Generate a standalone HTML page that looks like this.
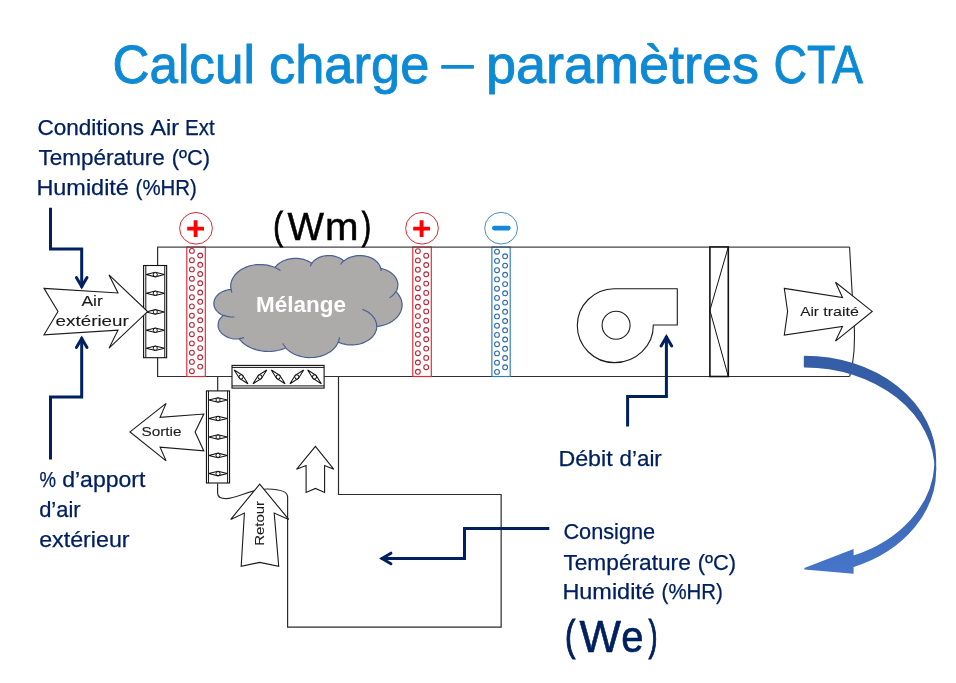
<!DOCTYPE html>
<html><head><meta charset="utf-8"><title>Calcul charge</title>
<style>
html,body{margin:0;padding:0;background:#fff;}
body{width:956px;height:683px;overflow:hidden;}
svg{display:block;will-change:transform;}
text{font-family:"Liberation Sans",sans-serif;}
</style></head><body>
<svg width="956" height="683" viewBox="0 0 956 683">
<rect width="956" height="683" fill="#ffffff"/>

<g fill="none" stroke="#2b2b2b" stroke-width="1.2">
<path d="M157.6 247.0 V376.5"/>
<path d="M849.6 247.0 C851 275 852.5 300 854 322 C855 338 854.5 352 852.5 364 C851.8 369 850.8 373 849.6 376.5" stroke="#222" stroke-width="1.1"/>
<path d="M217.7 376.5 V391" />
<path d="M338.5 376.5 V494.5 H501.15 V627.2 H287.6 V497 C287.6 492 281 489.3 268 489 C250 488.6 238 498.6 226 498.6 C220 498.6 217.6 497 217.6 493 V483.5" />
</g>
<path d="M157.0 376.5 H849.6" fill="none" stroke="#303030" stroke-width="1.2"/>
<g fill="none" stroke="#e3262f" stroke-width="1.15">
<rect x="186.8" y="247.0" width="18.5" height="129.5" fill="#fff"/>
<circle cx="191.9" cy="250.9" r="2.4" stroke="#b8263a" stroke-width="1.1"/>
<circle cx="191.9" cy="260.2" r="2.4" stroke="#b8263a" stroke-width="1.1"/>
<circle cx="191.9" cy="269.4" r="2.4" stroke="#b8263a" stroke-width="1.1"/>
<circle cx="191.9" cy="278.7" r="2.4" stroke="#b8263a" stroke-width="1.1"/>
<circle cx="191.9" cy="287.9" r="2.4" stroke="#b8263a" stroke-width="1.1"/>
<circle cx="191.9" cy="297.2" r="2.4" stroke="#b8263a" stroke-width="1.1"/>
<circle cx="191.9" cy="306.4" r="2.4" stroke="#b8263a" stroke-width="1.1"/>
<circle cx="191.9" cy="315.7" r="2.4" stroke="#b8263a" stroke-width="1.1"/>
<circle cx="191.9" cy="324.9" r="2.4" stroke="#b8263a" stroke-width="1.1"/>
<circle cx="191.9" cy="334.2" r="2.4" stroke="#b8263a" stroke-width="1.1"/>
<circle cx="191.9" cy="343.4" r="2.4" stroke="#b8263a" stroke-width="1.1"/>
<circle cx="191.9" cy="352.7" r="2.4" stroke="#b8263a" stroke-width="1.1"/>
<circle cx="191.9" cy="361.9" r="2.4" stroke="#b8263a" stroke-width="1.1"/>
<circle cx="191.9" cy="371.2" r="2.4" stroke="#b8263a" stroke-width="1.1"/>
<circle cx="200.2" cy="255.5" r="2.4" stroke="#b8263a" stroke-width="1.1"/>
<circle cx="200.2" cy="264.8" r="2.4" stroke="#b8263a" stroke-width="1.1"/>
<circle cx="200.2" cy="274.0" r="2.4" stroke="#b8263a" stroke-width="1.1"/>
<circle cx="200.2" cy="283.3" r="2.4" stroke="#b8263a" stroke-width="1.1"/>
<circle cx="200.2" cy="292.5" r="2.4" stroke="#b8263a" stroke-width="1.1"/>
<circle cx="200.2" cy="301.8" r="2.4" stroke="#b8263a" stroke-width="1.1"/>
<circle cx="200.2" cy="311.1" r="2.4" stroke="#b8263a" stroke-width="1.1"/>
<circle cx="200.2" cy="320.3" r="2.4" stroke="#b8263a" stroke-width="1.1"/>
<circle cx="200.2" cy="329.6" r="2.4" stroke="#b8263a" stroke-width="1.1"/>
<circle cx="200.2" cy="338.8" r="2.4" stroke="#b8263a" stroke-width="1.1"/>
<circle cx="200.2" cy="348.1" r="2.4" stroke="#b8263a" stroke-width="1.1"/>
<circle cx="200.2" cy="357.3" r="2.4" stroke="#b8263a" stroke-width="1.1"/>
<circle cx="200.2" cy="366.6" r="2.4" stroke="#b8263a" stroke-width="1.1"/>
</g>
<g fill="none" stroke="#e3262f" stroke-width="1.15">
<rect x="412.8" y="247.0" width="18.5" height="129.5" fill="#fff"/>
<circle cx="417.9" cy="251.1" r="2.4" stroke="#b8263a" stroke-width="1.1"/>
<circle cx="417.9" cy="260.4" r="2.4" stroke="#b8263a" stroke-width="1.1"/>
<circle cx="417.9" cy="269.7" r="2.4" stroke="#b8263a" stroke-width="1.1"/>
<circle cx="417.9" cy="279.0" r="2.4" stroke="#b8263a" stroke-width="1.1"/>
<circle cx="417.9" cy="288.2" r="2.4" stroke="#b8263a" stroke-width="1.1"/>
<circle cx="417.9" cy="297.5" r="2.4" stroke="#b8263a" stroke-width="1.1"/>
<circle cx="417.9" cy="306.8" r="2.4" stroke="#b8263a" stroke-width="1.1"/>
<circle cx="417.9" cy="316.1" r="2.4" stroke="#b8263a" stroke-width="1.1"/>
<circle cx="417.9" cy="325.4" r="2.4" stroke="#b8263a" stroke-width="1.1"/>
<circle cx="417.9" cy="334.7" r="2.4" stroke="#b8263a" stroke-width="1.1"/>
<circle cx="417.9" cy="343.9" r="2.4" stroke="#b8263a" stroke-width="1.1"/>
<circle cx="417.9" cy="353.2" r="2.4" stroke="#b8263a" stroke-width="1.1"/>
<circle cx="417.9" cy="362.5" r="2.4" stroke="#b8263a" stroke-width="1.1"/>
<circle cx="417.9" cy="371.8" r="2.4" stroke="#b8263a" stroke-width="1.1"/>
<circle cx="426.2" cy="255.7" r="2.4" stroke="#b8263a" stroke-width="1.1"/>
<circle cx="426.2" cy="265.0" r="2.4" stroke="#b8263a" stroke-width="1.1"/>
<circle cx="426.2" cy="274.3" r="2.4" stroke="#b8263a" stroke-width="1.1"/>
<circle cx="426.2" cy="283.6" r="2.4" stroke="#b8263a" stroke-width="1.1"/>
<circle cx="426.2" cy="292.9" r="2.4" stroke="#b8263a" stroke-width="1.1"/>
<circle cx="426.2" cy="302.2" r="2.4" stroke="#b8263a" stroke-width="1.1"/>
<circle cx="426.2" cy="311.4" r="2.4" stroke="#b8263a" stroke-width="1.1"/>
<circle cx="426.2" cy="320.7" r="2.4" stroke="#b8263a" stroke-width="1.1"/>
<circle cx="426.2" cy="330.0" r="2.4" stroke="#b8263a" stroke-width="1.1"/>
<circle cx="426.2" cy="339.3" r="2.4" stroke="#b8263a" stroke-width="1.1"/>
<circle cx="426.2" cy="348.6" r="2.4" stroke="#b8263a" stroke-width="1.1"/>
<circle cx="426.2" cy="357.9" r="2.4" stroke="#b8263a" stroke-width="1.1"/>
<circle cx="426.2" cy="367.2" r="2.4" stroke="#b8263a" stroke-width="1.1"/>
</g>
<g fill="none" stroke="#2f78bd" stroke-width="1.15">
<rect x="491.9" y="247.0" width="18.3" height="129.5" fill="#fff"/>
<circle cx="497.0" cy="251.7" r="2.4" stroke="#2b69a8" stroke-width="1.1"/>
<circle cx="497.0" cy="260.9" r="2.4" stroke="#2b69a8" stroke-width="1.1"/>
<circle cx="497.0" cy="270.2" r="2.4" stroke="#2b69a8" stroke-width="1.1"/>
<circle cx="497.0" cy="279.4" r="2.4" stroke="#2b69a8" stroke-width="1.1"/>
<circle cx="497.0" cy="288.7" r="2.4" stroke="#2b69a8" stroke-width="1.1"/>
<circle cx="497.0" cy="297.9" r="2.4" stroke="#2b69a8" stroke-width="1.1"/>
<circle cx="497.0" cy="307.2" r="2.4" stroke="#2b69a8" stroke-width="1.1"/>
<circle cx="497.0" cy="316.4" r="2.4" stroke="#2b69a8" stroke-width="1.1"/>
<circle cx="497.0" cy="325.7" r="2.4" stroke="#2b69a8" stroke-width="1.1"/>
<circle cx="497.0" cy="334.9" r="2.4" stroke="#2b69a8" stroke-width="1.1"/>
<circle cx="497.0" cy="344.2" r="2.4" stroke="#2b69a8" stroke-width="1.1"/>
<circle cx="497.0" cy="353.4" r="2.4" stroke="#2b69a8" stroke-width="1.1"/>
<circle cx="497.0" cy="362.7" r="2.4" stroke="#2b69a8" stroke-width="1.1"/>
<circle cx="497.0" cy="371.9" r="2.4" stroke="#2b69a8" stroke-width="1.1"/>
<circle cx="505.1" cy="256.3" r="2.4" stroke="#2b69a8" stroke-width="1.1"/>
<circle cx="505.1" cy="265.6" r="2.4" stroke="#2b69a8" stroke-width="1.1"/>
<circle cx="505.1" cy="274.8" r="2.4" stroke="#2b69a8" stroke-width="1.1"/>
<circle cx="505.1" cy="284.1" r="2.4" stroke="#2b69a8" stroke-width="1.1"/>
<circle cx="505.1" cy="293.3" r="2.4" stroke="#2b69a8" stroke-width="1.1"/>
<circle cx="505.1" cy="302.6" r="2.4" stroke="#2b69a8" stroke-width="1.1"/>
<circle cx="505.1" cy="311.8" r="2.4" stroke="#2b69a8" stroke-width="1.1"/>
<circle cx="505.1" cy="321.0" r="2.4" stroke="#2b69a8" stroke-width="1.1"/>
<circle cx="505.1" cy="330.3" r="2.4" stroke="#2b69a8" stroke-width="1.1"/>
<circle cx="505.1" cy="339.5" r="2.4" stroke="#2b69a8" stroke-width="1.1"/>
<circle cx="505.1" cy="348.8" r="2.4" stroke="#2b69a8" stroke-width="1.1"/>
<circle cx="505.1" cy="358.0" r="2.4" stroke="#2b69a8" stroke-width="1.1"/>
<circle cx="505.1" cy="367.3" r="2.4" stroke="#2b69a8" stroke-width="1.1"/>
</g>
<path d="M157.0 247.1 H849.6" fill="none" stroke="#454545" stroke-width="1.4"/>
<ellipse cx="196.0" cy="228.3" rx="16.4" ry="15.85" fill="#fff" stroke="#d4202c" stroke-width="0.95"/>
<path d="M187.2 228.6 h16.8 M195.6 220.2 v16.8" stroke="#ff0000" stroke-width="3.9" fill="none"/>
<ellipse cx="422.0" cy="228.3" rx="16.4" ry="15.85" fill="#fff" stroke="#d4202c" stroke-width="0.95"/>
<path d="M413.2 228.6 h16.8 M421.6 220.2 v16.8" stroke="#ff0000" stroke-width="3.9" fill="none"/>
<ellipse cx="501.1" cy="228.2" rx="16.4" ry="15.85" fill="#fff" stroke="#3b87b9" stroke-width="0.95"/>
<path d="M494.4 228.1 h13.9" stroke="#1487d7" stroke-width="4.8" stroke-linecap="round" fill="none"/>
<path d="M231.0 289.1 L230.7 287.1 L230.7 285.1 L231.0 283.1 L231.5 281.1 L232.3 279.2 L233.3 277.3 L234.5 275.5 L236.0 273.8 L237.7 272.2 L239.5 270.7 L241.6 269.3 L243.8 268.2 L246.1 267.1 L248.6 266.2 L251.2 265.5 L253.8 265.0 L256.5 264.7 L259.2 264.5 L262.0 264.6 L264.7 264.8 L267.4 265.2 L270.0 265.8 L272.5 266.5 L274.9 267.5 L275.9 266.3 L276.9 265.2 L278.0 264.2 L279.2 263.2 L280.6 262.4 L282.0 261.5 L283.5 260.8 L285.1 260.2 L286.7 259.6 L288.4 259.2 L290.2 258.8 L291.9 258.6 L293.7 258.4 L295.5 258.4 L297.3 258.4 L299.1 258.6 L300.8 258.8 L302.6 259.2 L304.3 259.7 L305.9 260.2 L307.5 260.9 L309.0 261.6 L310.4 262.4 L311.7 263.3 L312.5 262.3 L313.4 261.3 L314.4 260.4 L315.5 259.5 L316.7 258.7 L318.0 258.0 L319.3 257.4 L320.8 256.8 L322.2 256.4 L323.8 256.0 L325.3 255.8 L326.9 255.6 L328.5 255.5 L330.1 255.6 L331.7 255.7 L333.3 255.9 L334.8 256.3 L336.3 256.7 L337.8 257.2 L339.2 257.8 L340.5 258.5 L341.7 259.3 L342.8 260.1 L343.8 261.1 L345.2 260.0 L346.7 259.0 L348.3 258.1 L350.0 257.4 L351.8 256.8 L353.7 256.3 L355.6 255.9 L357.5 255.7 L359.5 255.6 L361.5 255.6 L363.5 255.8 L365.4 256.1 L367.3 256.5 L369.2 257.1 L370.9 257.8 L372.6 258.6 L374.1 259.6 L375.5 260.6 L376.8 261.7 L377.9 262.9 L378.9 264.2 L379.7 265.5 L380.3 266.9 L380.8 268.4 L382.3 268.7 L383.9 269.2 L385.4 269.7 L386.8 270.3 L388.2 271.0 L389.5 271.7 L390.7 272.5 L391.9 273.4 L392.9 274.4 L393.9 275.3 L394.8 276.4 L395.6 277.5 L396.2 278.6 L396.8 279.7 L397.2 280.9 L397.6 282.1 L397.8 283.3 L397.9 284.5 L397.8 285.8 L397.7 287.0 L397.4 288.2 L397.1 289.4 L396.6 290.6 L396.0 291.7 L397.5 293.2 L398.7 294.9 L399.8 296.6 L400.7 298.4 L401.4 300.2 L401.8 302.1 L402.1 303.9 L402.1 305.8 L401.9 307.7 L401.4 309.6 L400.8 311.4 L399.9 313.2 L398.8 314.9 L397.6 316.5 L396.1 318.1 L394.5 319.5 L392.7 320.9 L390.8 322.1 L388.7 323.2 L386.5 324.2 L384.2 325.0 L381.8 325.7 L379.3 326.2 L376.8 326.5 L376.7 328.2 L376.4 329.8 L375.8 331.4 L375.2 332.9 L374.3 334.4 L373.2 335.9 L372.0 337.3 L370.6 338.5 L369.1 339.7 L367.4 340.8 L365.6 341.8 L363.7 342.6 L361.7 343.4 L359.7 344.0 L357.5 344.4 L355.3 344.7 L353.1 344.9 L350.9 344.9 L348.7 344.8 L346.5 344.6 L344.3 344.1 L342.2 343.6 L340.2 342.9 L338.3 342.1 L337.3 344.0 L336.2 345.9 L334.8 347.7 L333.2 349.3 L331.4 350.9 L329.4 352.3 L327.2 353.5 L324.9 354.7 L322.4 355.6 L319.8 356.4 L317.2 356.9 L314.5 357.3 L311.7 357.5 L309.0 357.6 L306.2 357.4 L303.5 357.0 L300.8 356.4 L298.2 355.7 L295.8 354.8 L293.4 353.7 L291.2 352.5 L289.2 351.1 L287.4 349.6 L285.7 347.9 L283.8 348.7 L281.8 349.4 L279.7 350.0 L277.6 350.5 L275.4 350.9 L273.2 351.2 L271.0 351.4 L268.8 351.5 L266.5 351.4 L264.3 351.3 L262.1 351.0 L260.0 350.7 L257.8 350.2 L255.7 349.6 L253.7 348.9 L251.7 348.2 L249.8 347.3 L248.0 346.4 L246.3 345.3 L244.7 344.2 L243.1 343.0 L241.7 341.7 L240.4 340.4 L239.3 338.9 L237.3 339.0 L235.4 339.0 L233.5 338.8 L231.6 338.5 L229.8 338.0 L228.1 337.4 L226.4 336.6 L224.9 335.8 L223.5 334.8 L222.2 333.8 L221.1 332.6 L220.1 331.4 L219.3 330.1 L218.7 328.7 L218.3 327.3 L218.1 325.9 L218.1 324.5 L218.3 323.1 L218.6 321.7 L219.2 320.3 L219.9 319.0 L220.9 317.8 L222.0 316.6 L223.2 315.5 L221.5 314.7 L220.0 313.8 L218.6 312.7 L217.4 311.6 L216.3 310.4 L215.4 309.1 L214.7 307.7 L214.2 306.3 L213.9 304.8 L213.8 303.3 L214.0 301.9 L214.3 300.4 L214.8 299.0 L215.5 297.7 L216.4 296.3 L217.5 295.1 L218.7 294.0 L220.1 292.9 L221.7 292.0 L223.3 291.2 L225.1 290.6 L227.0 290.0 L228.9 289.7 L230.8 289.4Z" fill="#adaaaa" stroke="#4b5f93" stroke-width="1.2" stroke-linejoin="round"/>
<path d="M234.4 317.0 L233.0 317.0 L231.6 317.0 L230.1 316.9 L228.7 316.7 L227.3 316.4 L226.0 316.1 L224.7 315.6 L223.4 315.1M244.1 337.6 L243.6 337.8 L243.0 337.9 L242.4 338.0 L241.8 338.2 L241.2 338.3 L240.6 338.4 L239.9 338.4 L239.3 338.5M285.7 347.5 L285.3 347.0 L284.9 346.5 L284.5 346.0 L284.1 345.5 L283.8 345.0 L283.4 344.5 L283.1 343.9 L282.8 343.4M339.5 337.3 L339.4 337.8 L339.3 338.4 L339.2 339.0 L339.0 339.5 L338.9 340.1 L338.7 340.7 L338.5 341.2 L338.3 341.8M362.5 309.4 L365.6 310.7 L368.4 312.3 L370.8 314.2 L372.9 316.3 L374.5 318.6 L375.7 321.1 L376.5 323.6 L376.7 326.2M395.9 291.5 L395.3 292.4 L394.7 293.2 L394.0 294.1 L393.2 294.9 L392.4 295.7 L391.5 296.4 L390.6 297.1 L389.6 297.8M380.8 268.0 L380.9 268.4 L380.9 268.8 L381.0 269.1 L381.0 269.5 L381.1 269.9 L381.1 270.2 L381.1 270.6 L381.1 271.0M340.5 264.5 L340.9 264.0 L341.2 263.5 L341.6 263.0 L342.0 262.5 L342.4 262.1 L342.8 261.6 L343.3 261.2 L343.8 260.7M310.4 266.3 L310.5 265.9 L310.6 265.5 L310.8 265.1 L311.0 264.7 L311.2 264.3 L311.4 263.9 L311.7 263.5 L311.9 263.1M274.9 267.5 L275.7 267.8 L276.4 268.2 L277.2 268.5 L277.9 268.9 L278.6 269.3 L279.3 269.8 L279.9 270.2 L280.6 270.6M232.0 292.5 L231.8 292.1 L231.6 291.7 L231.5 291.2 L231.4 290.8 L231.3 290.4 L231.2 290.0 L231.1 289.6 L231.0 289.1" fill="none" stroke="#4b5f93" stroke-width="1.2"/>
<g stroke="#111" stroke-width="1.1" fill="#fff">
<rect x="143.60" y="265.50" width="23.05" height="92.20"/>
<path d="M145.80 265.50 V357.70 M164.75 265.50 V357.70" stroke-width="1.0" fill="none"/>
<path d="M146.10 274.60 L155.28 272.35 L164.45 274.60 L155.28 276.85Z" stroke-width="1.05" stroke-linejoin="miter"/>
<circle cx="155.28" cy="274.60" r="2.05" stroke-width="1.0"/>
<path d="M146.10 293.30 L155.28 291.05 L164.45 293.30 L155.28 295.55Z" stroke-width="1.05" stroke-linejoin="miter"/>
<circle cx="155.28" cy="293.30" r="2.05" stroke-width="1.0"/>
<path d="M146.10 311.90 L155.28 309.65 L164.45 311.90 L155.28 314.15Z" stroke-width="1.05" stroke-linejoin="miter"/>
<circle cx="155.28" cy="311.90" r="2.05" stroke-width="1.0"/>
<path d="M146.10 330.30 L155.28 328.05 L164.45 330.30 L155.28 332.55Z" stroke-width="1.05" stroke-linejoin="miter"/>
<circle cx="155.28" cy="330.30" r="2.05" stroke-width="1.0"/>
<path d="M146.10 348.20 L155.28 345.95 L164.45 348.20 L155.28 350.45Z" stroke-width="1.05" stroke-linejoin="miter"/>
<circle cx="155.28" cy="348.20" r="2.05" stroke-width="1.0"/>
</g>
<g stroke="#111" stroke-width="1.1" fill="#fff">
<rect x="206.45" y="390.90" width="23.10" height="92.10"/>
<path d="M208.45 390.90 V483.00 M227.60 390.90 V483.00" stroke-width="1.0" fill="none"/>
<path d="M208.75 400.00 L218.02 397.75 L227.30 400.00 L218.02 402.25Z" stroke-width="1.05" stroke-linejoin="miter"/>
<circle cx="218.02" cy="400.00" r="2.05" stroke-width="1.0"/>
<path d="M208.75 418.50 L218.02 416.25 L227.30 418.50 L218.02 420.75Z" stroke-width="1.05" stroke-linejoin="miter"/>
<circle cx="218.02" cy="418.50" r="2.05" stroke-width="1.0"/>
<path d="M208.75 437.00 L218.02 434.75 L227.30 437.00 L218.02 439.25Z" stroke-width="1.05" stroke-linejoin="miter"/>
<circle cx="218.02" cy="437.00" r="2.05" stroke-width="1.0"/>
<path d="M208.75 455.40 L218.02 453.15 L227.30 455.40 L218.02 457.65Z" stroke-width="1.05" stroke-linejoin="miter"/>
<circle cx="218.02" cy="455.40" r="2.05" stroke-width="1.0"/>
<path d="M208.75 473.60 L218.02 471.35 L227.30 473.60 L218.02 475.85Z" stroke-width="1.05" stroke-linejoin="miter"/>
<circle cx="218.02" cy="473.60" r="2.05" stroke-width="1.0"/>
</g>
<g stroke="#111" stroke-width="1.1" fill="#fff">
<rect x="232.00" y="365.40" width="92.10" height="22.70"/>
<path d="M232.00 367.40 H324.10 M232.00 385.90 H324.10" stroke-width="1.0" fill="none"/>
<g transform="translate(241.10 376.85) rotate(45)">
<path d="M-9.7 0 L0 -2.25 L9.7 0 L0 2.25Z" stroke-width="1.05"/>
<circle cx="0" cy="0" r="2.05" stroke-width="1.0"/></g>
<g transform="translate(259.90 376.85) rotate(-45)">
<path d="M-9.7 0 L0 -2.25 L9.7 0 L0 2.25Z" stroke-width="1.05"/>
<circle cx="0" cy="0" r="2.05" stroke-width="1.0"/></g>
<g transform="translate(278.20 376.85) rotate(45)">
<path d="M-9.7 0 L0 -2.25 L9.7 0 L0 2.25Z" stroke-width="1.05"/>
<circle cx="0" cy="0" r="2.05" stroke-width="1.0"/></g>
<g transform="translate(296.80 376.85) rotate(-45)">
<path d="M-9.7 0 L0 -2.25 L9.7 0 L0 2.25Z" stroke-width="1.05"/>
<circle cx="0" cy="0" r="2.05" stroke-width="1.0"/></g>
<g transform="translate(314.50 376.85) rotate(45)">
<path d="M-9.7 0 L0 -2.25 L9.7 0 L0 2.25Z" stroke-width="1.05"/>
<circle cx="0" cy="0" r="2.05" stroke-width="1.0"/></g>
</g>
<path d="M44.0 288.4 L118.0 293.0 L109.0 274.9 L147.6 311.6 L109.0 348.2 L118.0 330.2 L44.0 334.8 L58.0 311.5Z" fill="#fff" stroke="#1a1a1a" stroke-width="1.1" stroke-linejoin="miter" stroke-miterlimit="3"/>
<path d="M130.0 431.9 L166.1 403.4 L160.1 417.4 L203.8 414.0 L195.1 431.9 L203.8 450.9 L160.1 447.2 L166.1 460.9Z" fill="#fff" stroke="#1a1a1a" stroke-width="1.1" stroke-linejoin="miter" stroke-miterlimit="3"/>
<path d="M259.7 484.1 L288.7 519.4 L274.2 513.1 L278.7 566.3 L259.7 562.4 L241.2 566.3 L244.4 513.1 L230.7 519.4Z" fill="#fff" stroke="#1a1a1a" stroke-width="1.1" stroke-linejoin="miter" stroke-miterlimit="3"/>
<path d="M315.4 446.3 L333.9 469.3 L324.6 465.5 L324.6 492.5 L315.4 488.4 L306.1 492.5 L306.1 465.5 L296.5 469.3Z" fill="#fff" stroke="#1a1a1a" stroke-width="1.1" stroke-linejoin="miter" stroke-miterlimit="3"/>
<path d="M784.3 288.4 L842.5 297.6 L835.5 282.2 L872.2 311.4 L835.5 341.1 L842.5 326.4 L784.3 335.0 L787.6 311.4Z" fill="#fff" stroke="#1a1a1a" stroke-width="1.1" stroke-linejoin="miter" stroke-miterlimit="3"/>
<path d="M614.3 288.7 H677.3 V325.0 H653.3 A39.0 37.0 0 0 1 614.3 362.6 A37.0 37.0 0 0 1 577.3 325.6 A37.0 37.0 0 0 1 614.3 288.7Z" fill="#fff" stroke="#1a1a1a" stroke-width="1.1"/>
<circle cx="616.1" cy="325.2" r="14.0" fill="#fff" stroke="#1a1a1a" stroke-width="1.1"/>
<rect x="709.9" y="247.0" width="18.4" height="129.5" fill="#fff" stroke="#111" stroke-width="1.6"/>
<path d="M728.3 247.0 L709.9 310.3 L728.3 376.5" fill="none" stroke="#111" stroke-width="1"/>
<path d="M50.5 207.7 L50.5 248.9 L81.7 248.9 L81.7 287.5" fill="none" stroke="#002060" stroke-width="3" stroke-linejoin="miter"/>
<path d="M76.4 277.6 L81.7 286.5 L87.0 277.6" fill="none" stroke="#002060" stroke-width="3" stroke-linecap="round" stroke-linejoin="miter"/>
<path d="M50.5 459.5 L50.5 397.0 L81.7 397.0 L81.7 337.5" fill="none" stroke="#002060" stroke-width="3" stroke-linejoin="miter"/>
<path d="M76.4 347.4 L81.7 338.5 L87.0 347.4" fill="none" stroke="#002060" stroke-width="3" stroke-linecap="round" stroke-linejoin="miter"/>
<path d="M627.6 426.5 L627.6 396.4 L666.4 396.4 L666.4 336.0" fill="none" stroke="#002060" stroke-width="3" stroke-linejoin="miter"/>
<path d="M661.1 345.9 L666.4 337.0 L671.7 345.9" fill="none" stroke="#002060" stroke-width="3" stroke-linecap="round" stroke-linejoin="miter"/>
<path d="M549.3 528.4 L464.5 528.4 L464.5 558.5 L381.0 558.5" fill="none" stroke="#002060" stroke-width="3" stroke-linejoin="miter"/>
<path d="M390.9 553.2 L382.0 558.5 L390.9 563.8" fill="none" stroke="#002060" stroke-width="3" stroke-linecap="round" stroke-linejoin="miter"/>
<defs><linearGradient id="bg" x1="0" y1="0" x2="0" y2="1"><stop offset="0" stop-color="#3860aa"/><stop offset="1" stop-color="#4675ca"/></linearGradient></defs>
<path d="M935.4 470.2 A130.8 103.6 0 0 0 804.6 366.6 L804.6 356.6 A130.8 103.6 0 0 1 935.4 460.2 Z" fill="#355ea6" stroke="#355ea6" stroke-width="1.6" stroke-linejoin="round"/>
<path d="M804.6 568.8 L852.8 550.1 L852.8 556.5 A130.8 103.6 0 0 0 935.2 465.2 A130.8 103.6 0 0 1 852.8 566.5 L852.8 572.9 Z" fill="url(#bg)" stroke="url(#bg)" stroke-width="1.6" stroke-linejoin="miter"/>
<text x="112.6" y="82.7" font-size="53.6" fill="#0E8AD4" textLength="142.2" lengthAdjust="spacingAndGlyphs" stroke="#0E8AD4" stroke-width="0.90">Calcul</text>
<text x="269.0" y="82.7" font-size="53.6" fill="#0E8AD4" textLength="160.3" lengthAdjust="spacingAndGlyphs" stroke="#0E8AD4" stroke-width="0.90">charge</text>
<text x="486.0" y="82.7" font-size="53.6" fill="#0E8AD4" textLength="273.1" lengthAdjust="spacingAndGlyphs" stroke="#0E8AD4" stroke-width="0.90">paramètres</text>
<text x="773.6" y="82.7" font-size="53.6" fill="#0E8AD4" textLength="89.4" lengthAdjust="spacingAndGlyphs" stroke="#0E8AD4" stroke-width="0.90">CTA</text>
<rect x="441.2" y="64.9" width="32.7" height="3.9" rx="0.9" fill="#0E8AD4"/>
<text x="37.4" y="134.6" font-size="22.0" fill="#002060" textLength="106.6" lengthAdjust="spacingAndGlyphs" stroke="#002060" stroke-width="0.25">Conditions</text>
<text x="150.4" y="134.6" font-size="22.0" fill="#002060" textLength="28.6" lengthAdjust="spacingAndGlyphs" stroke="#002060" stroke-width="0.25">Air</text>
<text x="185.0" y="134.6" font-size="22.0" fill="#002060" textLength="29.7" lengthAdjust="spacingAndGlyphs" stroke="#002060" stroke-width="0.25">Ext</text>
<text x="38.4" y="164.8" font-size="22.0" fill="#002060" textLength="126.4" lengthAdjust="spacingAndGlyphs" stroke="#002060" stroke-width="0.25">Température</text>
<text x="171.8" y="164.8" font-size="22.0" fill="#002060" textLength="38.3" lengthAdjust="spacingAndGlyphs" stroke="#002060" stroke-width="0.25">(ºC)</text>
<text x="36.4" y="194.6" font-size="22.0" fill="#002060" textLength="92.5" lengthAdjust="spacingAndGlyphs" stroke="#002060" stroke-width="0.25">Humidité</text>
<text x="135.6" y="194.6" font-size="22.0" fill="#002060" textLength="61.3" lengthAdjust="spacingAndGlyphs" stroke="#002060" stroke-width="0.25">(%HR)</text>
<text x="39.6" y="487.3" font-size="22.0" fill="#002060" textLength="16.5" lengthAdjust="spacingAndGlyphs" stroke="#002060" stroke-width="0.25">%</text>
<text x="62.2" y="487.3" font-size="22.0" fill="#002060" textLength="83.2" lengthAdjust="spacingAndGlyphs" stroke="#002060" stroke-width="0.25">d’apport</text>
<text x="39.2" y="517.3" font-size="22.0" fill="#002060" textLength="41.4" lengthAdjust="spacingAndGlyphs" stroke="#002060" stroke-width="0.25">d’air</text>
<text x="39.2" y="547.4" font-size="22.0" fill="#002060" textLength="90.4" lengthAdjust="spacingAndGlyphs" stroke="#002060" stroke-width="0.25">extérieur</text>
<text x="558.4" y="465.9" font-size="22.0" fill="#002060" textLength="54.3" lengthAdjust="spacingAndGlyphs" stroke="#002060" stroke-width="0.25">Débit</text>
<text x="619.6" y="465.9" font-size="22.0" fill="#002060" textLength="42.2" lengthAdjust="spacingAndGlyphs" stroke="#002060" stroke-width="0.25">d’air</text>
<text x="563.4" y="539.0" font-size="22.0" fill="#002060" textLength="91.8" lengthAdjust="spacingAndGlyphs" stroke="#002060" stroke-width="0.25">Consigne</text>
<text x="563.4" y="569.5" font-size="22.0" fill="#002060" textLength="127.4" lengthAdjust="spacingAndGlyphs" stroke="#002060" stroke-width="0.25">Température</text>
<text x="697.8" y="569.5" font-size="22.0" fill="#002060" textLength="38.3" lengthAdjust="spacingAndGlyphs" stroke="#002060" stroke-width="0.25">(ºC)</text>
<text x="562.4" y="599.4" font-size="22.0" fill="#002060" textLength="92.5" lengthAdjust="spacingAndGlyphs" stroke="#002060" stroke-width="0.25">Humidité</text>
<text x="661.6" y="599.4" font-size="22.0" fill="#002060" textLength="61.3" lengthAdjust="spacingAndGlyphs" stroke="#002060" stroke-width="0.25">(%HR)</text>
<text x="565.0" y="649.7" font-size="42.3" fill="#002060" textLength="10.4" lengthAdjust="spacingAndGlyphs" stroke="#002060" stroke-width="1.10">(</text>
<text x="579.4" y="651.8" font-size="44.1" fill="#002060" textLength="41.4" lengthAdjust="spacingAndGlyphs" stroke="#002060" stroke-width="0.60">W</text>
<text x="621.2" y="651.8" font-size="44.1" fill="#002060" textLength="22.3" lengthAdjust="spacingAndGlyphs" stroke="#002060" stroke-width="0.60">e</text>
<text x="648.4" y="649.7" font-size="42.3" fill="#002060" textLength="9.0" lengthAdjust="spacingAndGlyphs" stroke="#002060" stroke-width="1.10">)</text>
<text x="273.2" y="238.7" font-size="38.9" fill="#000" textLength="9.7" lengthAdjust="spacingAndGlyphs" stroke="#000" stroke-width="1.00">(</text>
<text x="287.4" y="239.8" font-size="39.0" fill="#000" textLength="36.4" lengthAdjust="spacingAndGlyphs" stroke="#000" stroke-width="0.50">W</text>
<text x="325.0" y="239.8" font-size="39.0" fill="#000" textLength="33.5" lengthAdjust="spacingAndGlyphs" stroke="#000" stroke-width="0.50">m</text>
<text x="361.8" y="238.7" font-size="38.9" fill="#000" textLength="9.3" lengthAdjust="spacingAndGlyphs" stroke="#000" stroke-width="1.00">)</text>
<text x="256.0" y="311.8" font-size="22.2" fill="#ffffff" textLength="89.9" lengthAdjust="spacingAndGlyphs" font-weight="bold">Mélange</text>
<text x="81.4" y="305.6" font-size="15.3" fill="#1a1a1a" textLength="21.4" lengthAdjust="spacingAndGlyphs" stroke="#1a1a1a" stroke-width="0.10">Air</text>
<text x="55.6" y="325.6" font-size="15.3" fill="#1a1a1a" textLength="73.2" lengthAdjust="spacingAndGlyphs" stroke="#1a1a1a" stroke-width="0.10">extérieur</text>
<text x="141.4" y="436.4" font-size="13.4" fill="#1a1a1a" textLength="40.2" lengthAdjust="spacingAndGlyphs" stroke="#1a1a1a" stroke-width="0.10">Sortie</text>
<g transform="translate(264.4 544.7) rotate(-90)">
<text x="-1.0" y="0.0" font-size="13.4" fill="#1a1a1a" textLength="44.8" lengthAdjust="spacingAndGlyphs" stroke="#1a1a1a" stroke-width="0.1">Retour</text>
</g>
<text x="800.2" y="315.9" font-size="13.4" fill="#1a1a1a" textLength="18.7" lengthAdjust="spacingAndGlyphs" stroke="#1a1a1a" stroke-width="0.10">Air</text>
<text x="823.2" y="315.9" font-size="13.4" fill="#1a1a1a" textLength="35.7" lengthAdjust="spacingAndGlyphs" stroke="#1a1a1a" stroke-width="0.10">traité</text>
</svg></body></html>
